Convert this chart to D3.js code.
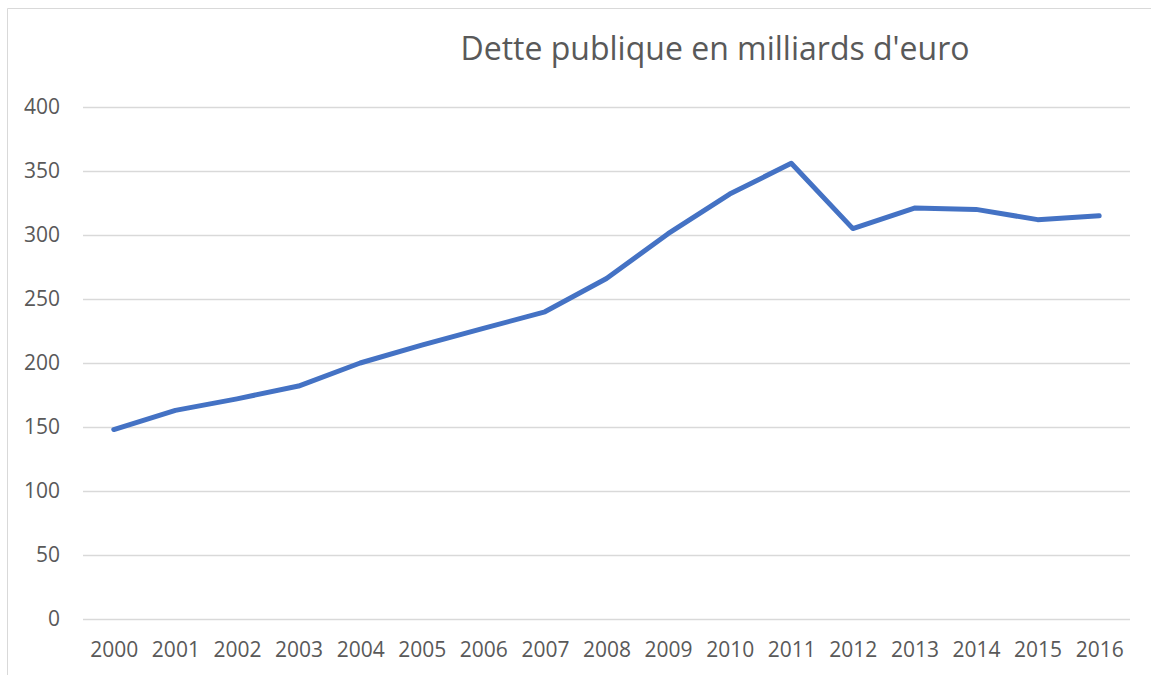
<!DOCTYPE html>
<html>
<head>
<meta charset="utf-8">
<script src="https://cdn.jsdelivr.net/npm/d3@7"></script>
<style>
  body { margin: 0; background: #fff; }
  text { font-family: "Open Sans", "Noto Sans", sans-serif; fill: #595959; }
</style>
</head>
<body>
<div id="chart"></div>
<script>
// data
var years = ["2000","2001","2002","2003","2004","2005","2006","2007","2008",
             "2009","2010","2011","2012","2013","2014","2015","2016"];
var dette = [148, 163, 172, 182, 200, 214, 227, 240, 266,
             301, 332, 356, 305, 321, 320, 312, 315];
var yTicks = [0, 50, 100, 150, 200, 250, 300, 350, 400];
var titre = "Dette publique en milliards d'euro";

var W = 1151, H = 675;
var margin = {top: 107, right: 21, bottom: 56, left: 83};
var width = W - margin.left - margin.right;
var height = H - margin.top - margin.bottom;

var svg = d3.select("#chart").append("svg")
    .attr("width", W)
    .attr("height", H);

// outer frame (only left and top visible in the crop)
svg.append("path")
    .attr("d", "M7.5," + H + "V8.5H" + W)
    .attr("fill", "none")
    .attr("stroke", "#d9d9d9")
    .attr("stroke-width", 1);

var g = svg.append("g")
    .attr("transform", "translate(" + margin.left + "," + margin.top + ")");

var x = d3.scalePoint().domain(years).range([0, width]).padding(0.5);
var y = d3.scaleLinear().domain([0, 400]).range([height, 0]);

// grid
g.append("g")
    .selectAll("line")
    .data(yTicks)
    .join("line")
    .attr("x1", 0).attr("x2", width)
    .attr("y1", function(d){ return y(d) + 0.5; })
    .attr("y2", function(d){ return y(d) + 0.5; })
    .attr("stroke", "#d9d9d9")
    .attr("stroke-width", 1.5);

// y axis
var yAxis = d3.axisLeft(y).tickValues(yTicks).tickSize(0).tickPadding(23);
var gY = g.append("g").call(yAxis);
gY.select(".domain").remove();
gY.selectAll("text").style("font-size", "21px").attr("fill", "#595959");

// x axis
var xAxis = d3.axisBottom(x).tickSize(0).tickPadding(23);
var gX = g.append("g")
    .attr("transform", "translate(0," + height + ")")
    .call(xAxis);
gX.select(".domain").remove();
gX.selectAll("text").style("font-size", "21px").attr("fill", "#595959");

// line
var line = d3.line()
    .x(function(d, i){ return x(years[i]); })
    .y(function(d){ return y(d); });

g.append("path")
    .datum(dette)
    .attr("d", line)
    .attr("fill", "none")
    .attr("stroke", "#4472c4")
    .attr("stroke-width", 5)
    .attr("stroke-linejoin", "round")
    .attr("stroke-linecap", "round");

// title
svg.append("text")
    .attr("x", 715)
    .attr("y", 60)
    .attr("text-anchor", "middle")
    .style("font-size", "32px")
    .text(titre);
</script>
</body>
</html>
